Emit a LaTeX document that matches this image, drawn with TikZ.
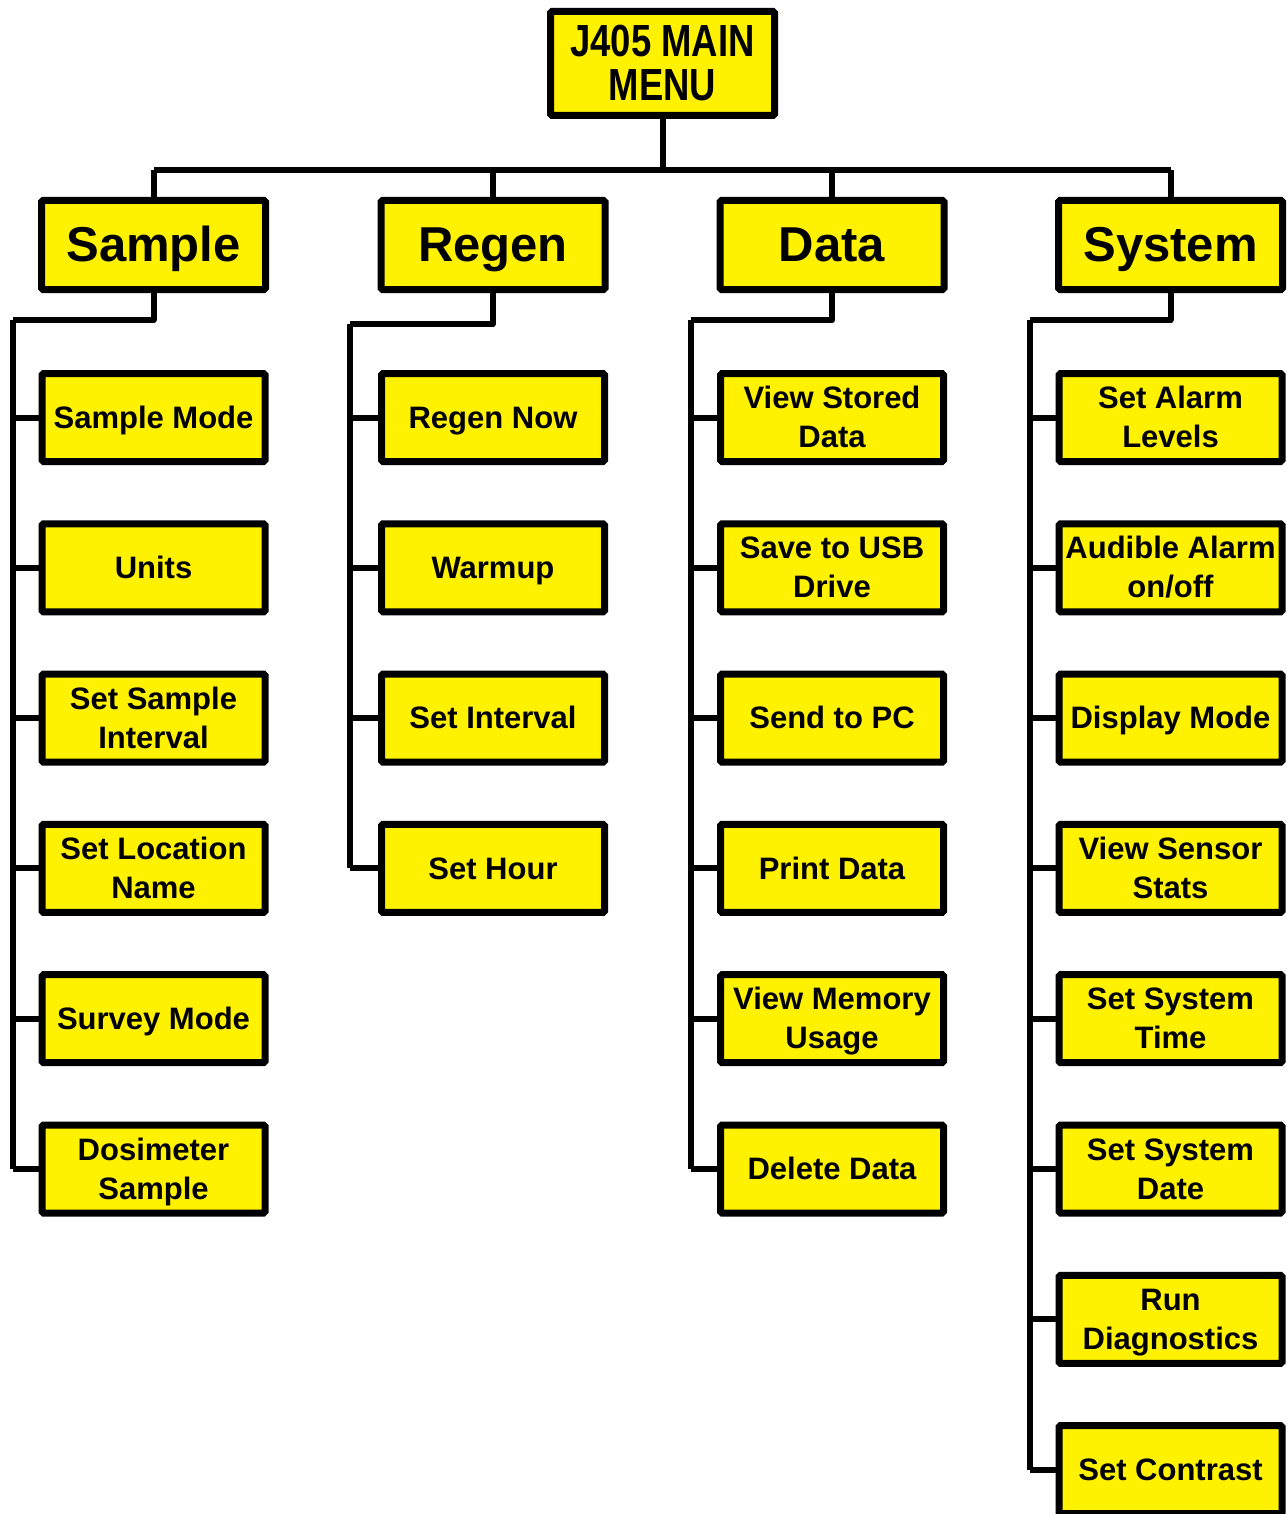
\documentclass[tikz,border=0pt]{standalone}
\usepackage{fontspec}
\setmainfont{Liberation Sans}
\newfontfamily\jnarrow[FakeStretch=0.81]{Liberation Sans}
\newcommand\jtopfont{\jnarrow\bfseries\fontsize{45}{44}\selectfont}
\newcommand\jcatfont{\bfseries\fontsize{49}{54}\selectfont}
\newcommand\jchildfont{\bfseries\fontsize{31}{39}\selectfont}
% one line, caps centred in the box
\newcommand\jl[1]{\raisebox{0pt}[\fontcharht\font`H][0pt]{#1}}
% two lines, caps block centred in the box
\newcommand\jll[2]{\raisebox{0pt}[\dimexpr\fontcharht\font`H+\baselineskip\relax][0pt]{\vbox{\halign{\hfil##\hfil\cr #1\cr #2\cr}}}}
\begin{document}
\begin{tikzpicture}[x=1pt,y=-1pt]
\tikzset{
  box/.style={draw=black, line width=7pt, fill=yellow, inner sep=0pt, rounded corners=1.5pt},
  topbox/.style={box, minimum width=224pt, minimum height=104pt, font=\jtopfont},
  catbox/.style={box, minimum width=224pt, minimum height=89pt, font=\jcatfont},
  childbox/.style={box, minimum width=223pt, minimum height=88pt, font=\jchildfont},
  conn/.style={draw=black, line width=6pt, line join=round}
}
\useasboundingbox (0,0) rectangle (1286,1514);

% coordinates of the bus and the trunks
\coordinate (busL) at (153.5,170);
\coordinate (busR) at (1170.5,170);
\coordinate (tS) at (12.5,320);
\coordinate (tR) at (349.5,324);
\coordinate (tD) at (691,320);
\coordinate (tY) at (1029.5,320);

% top
\node[topbox] (top) at (662.5,63.5) {\jll{J405 MAIN}{MENU}};

% categories
\node[catbox] (Sample) at (153.5,245) {\jl{Sample}};
\node[catbox] (Regen) at (493,245) {\jl{Regen}};
\node[catbox] (Data) at (832,245) {\jl{Data}};
\node[catbox] (System) at (1170.5,245) {\jl{System}};

% connectors of the upper levels
\draw[conn] (busL) -- (busR);
\draw[conn] (top.south) -- (top.south |- busL);
\foreach \c in {Sample,Regen,Data,System}{
  \draw[conn] (\c.north) -- (\c.north |- busL);
}
\draw[conn] (Sample.south) |- (tS);
\draw[conn] (Regen.south) |- (tR);
\draw[conn] (Data.south) |- (tD);
\draw[conn] (System.south) |- (tY);

% Sample column
\foreach \i/\t in {1/{\jl{Sample Mode}},2/{\jl{Units}},3/{\jll{Set Sample}{Interval}},4/{\jll{Set Location}{Name}},5/{\jl{Survey Mode}},6/{\jll{Dosimeter}{Sample}}}{
  \node[childbox] (s\i) at (153.5,{417.5+150.3*(\i-1)}) {\t};
  \draw[conn] (tS |- s\i.west) -- (s\i.west);
}
\draw[conn] (tS) -- (tS |- s6.west);

% Regen column
\foreach \i/\t in {1/{\jl{Regen Now}},2/{\jl{Warmup}},3/{\jl{Set Interval}},4/{\jl{Set Hour}}}{
  \node[childbox] (r\i) at (493,{417.5+150.3*(\i-1)}) {\t};
  \draw[conn] (tR |- r\i.west) -- (r\i.west);
}
\draw[conn] (tR) -- (tR |- r4.west);

% Data column
\foreach \i/\t in {1/{\jll{View Stored}{Data}},2/{\jll{Save to USB}{Drive}},3/{\jl{Send to PC}},4/{\jl{Print Data}},5/{\jll{View Memory}{Usage}},6/{\jl{Delete Data}}}{
  \node[childbox] (d\i) at (832,{417.5+150.3*(\i-1)}) {\t};
  \draw[conn] (tD |- d\i.west) -- (d\i.west);
}
\draw[conn] (tD) -- (tD |- d6.west);

% System column
\foreach \i/\t in {1/{\jll{Set Alarm}{Levels}},2/{\jll{Audible Alarm}{on/off}},3/{\jl{Display Mode}},4/{\jll{View Sensor}{Stats}},5/{\jll{Set System}{Time}},6/{\jll{Set System}{Date}},7/{\jll{Run}{Diagnostics}},8/{\jl{Set Contrast}}}{
  \node[childbox] (y\i) at (1170.5,{417.5+150.3*(\i-1)}) {\t};
  \draw[conn] (tY |- y\i.west) -- (y\i.west);
}
\draw[conn] (tY) -- (tY |- y8.west);
\end{tikzpicture}
\end{document}
